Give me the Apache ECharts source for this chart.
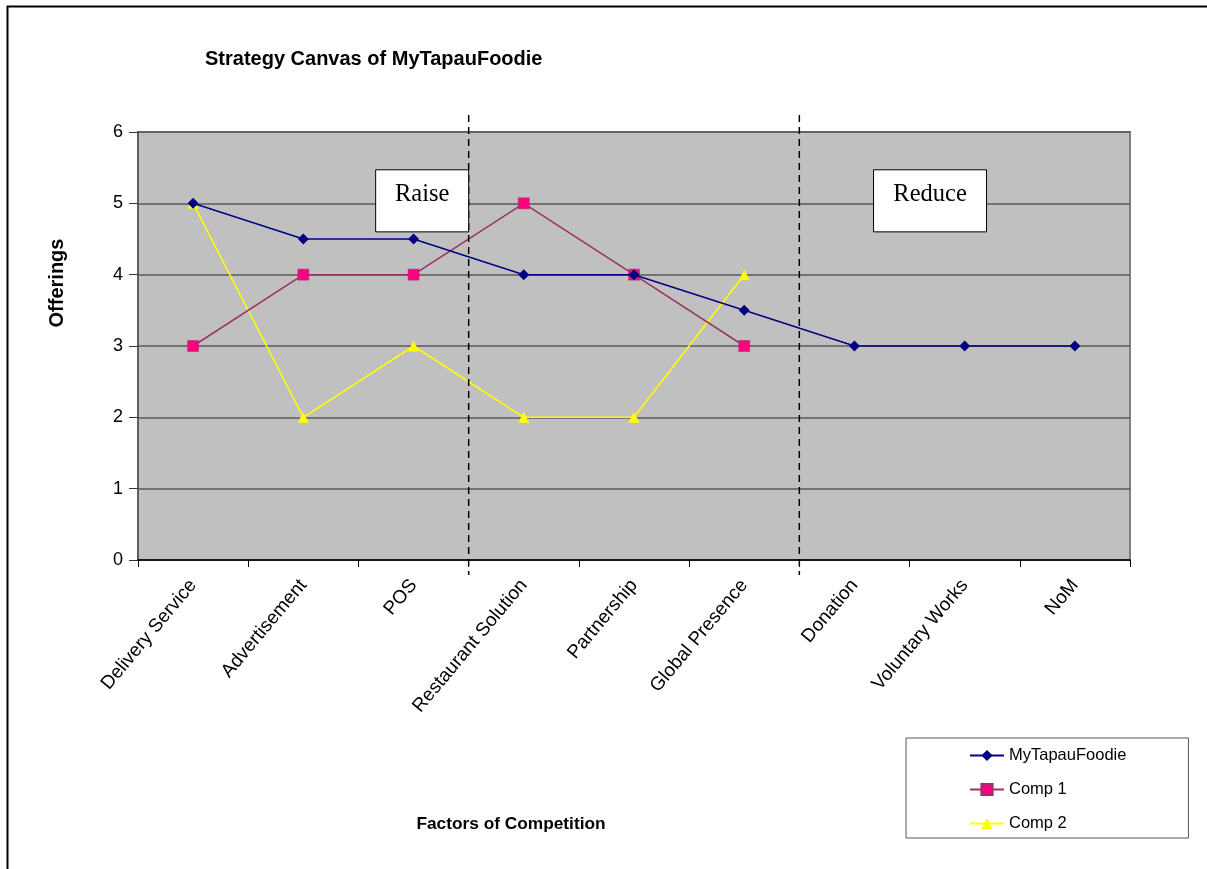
<!DOCTYPE html>
<html>
<head>
<meta charset="utf-8">
<style>
  html, body { margin: 0; padding: 0; background: #fff; }
  #chart { width: 1207px; height: 869px; }
</style>
<script src="https://cdn.jsdelivr.net/npm/echarts@6/dist/echarts.min.js"></script>
</head>
<body>
<div id="chart"></div>
<script>
// Factors of competition along the canvas
const categories = ['Delivery Service', 'Advertisement', 'POS', 'Restaurant Solution',
  'Partnership', 'Global Presence', 'Donation', 'Voluntary Works', 'NoM'];
// Offering levels per player
const myTapauFoodie = [5, 4.5, 4.5, 4, 4, 3.5, 3, 3, 3];
const comp1 = [3, 4, 4, 5, 4, 3, null, null, null];
const comp2 = [5, 2, 3, 2, 2, 4, null, null, null];
const yTicks = [0, 1, 2, 3, 4, 5, 6];
// Zone labels and the category index each zone ends after
const zones = [
  { text: 'Raise', after: 2 },
  { text: 'Reduce', after: 5 }
];

const FONT = '"Liberation Sans", Arial, sans-serif';
const chart = echarts.init(document.getElementById('chart'), null, { renderer: 'canvas' });

const option = {
  animation: false,
  backgroundColor: '#ffffff',
  title: {
    text: 'Strategy Canvas of MyTapauFoodie',
    left: 200, top: 44,
    textStyle: { fontFamily: FONT, fontSize: 20, fontWeight: 'bold', color: '#000' }
  },
  grid: {
    left: 138, right: 77, top: 132, bottom: 309,
    show: true, backgroundColor: '#c0c0c0', borderColor: '#808080', borderWidth: 2
  },
  legend: {
    orient: 'vertical',
    left: 906, top: 738,
    padding: [9, 62, 6, 63],
    backgroundColor: '#ffffff',
    borderColor: '#555555', borderWidth: 1,
    itemWidth: 34, itemHeight: 14, itemGap: 17,
    textStyle: { fontFamily: FONT, fontSize: 16.5, color: '#000' },
    data: ['MyTapauFoodie', 'Comp 1', 'Comp 2']
  },
  xAxis: {
    type: 'category',
    data: categories,
    boundaryGap: true,
    axisLine: { lineStyle: { color: '#000', width: 1.5 } },
    axisTick: { show: true, length: 7, lineStyle: { color: '#000' } },
    axisLabel: {
      rotate: 50, margin: 22, interval: 0,
      fontFamily: FONT, fontSize: 19, color: '#000'
    },
    splitLine: { show: false }
  },
  yAxis: {
    type: 'value',
    min: yTicks[0], max: yTicks[yTicks.length - 1], interval: 1,
    axisLine: { show: true, lineStyle: { color: '#555', width: 1.5 } },
    axisTick: { show: true, inside: false, length: 9, lineStyle: { color: '#333' } },
    axisLabel: { margin: 15, fontFamily: FONT, fontSize: 18, color: '#000' },
    splitLine: { show: true, lineStyle: { color: '#5a5a5a', width: 1.5 } }
  },
  series: [
    {
      name: 'MyTapauFoodie', type: 'line', data: myTapauFoodie,
      symbol: 'diamond', symbolSize: 11,
      lineStyle: { color: '#000080', width: 1.5 },
      itemStyle: { color: '#000080' },
      z: 4
    },
    {
      name: 'Comp 1', type: 'line', data: comp1,
      symbol: 'rect', symbolSize: 11,
      lineStyle: { color: '#993366', width: 1.5 },
      itemStyle: { color: '#ff0080', borderColor: '#993366', borderWidth: 0.5 },
      z: 3
    },
    {
      name: 'Comp 2', type: 'line', data: comp2,
      symbol: 'triangle', symbolSize: 11,
      lineStyle: { color: '#ffff00', width: 1.5 },
      itemStyle: { color: '#ffff00' },
      z: 2
    }
  ]
};

chart.setOption(option);

// Zone dividers and labels, placed from the axis scales
function zoneGraphics() {
  const els = [];
  const topY = chart.convertToPixel({ yAxisIndex: 0 }, 6);
  const botY = chart.convertToPixel({ yAxisIndex: 0 }, 0);
  const boxTop = chart.convertToPixel({ yAxisIndex: 0 }, 5.47);
  const boxBot = chart.convertToPixel({ yAxisIndex: 0 }, 4.6);
  zones.forEach(function (z) {
    const xa = chart.convertToPixel({ xAxisIndex: 0 }, categories[z.after]);
    const xb = chart.convertToPixel({ xAxisIndex: 0 }, categories[z.after + 1]);
    const xDiv = (xa + xb) / 2;
    els.push({
      type: 'line', z: 20,
      shape: { x1: xDiv, y1: topY - 17, x2: xDiv, y2: botY + 15 },
      style: { stroke: '#000', lineWidth: 1.5, lineDash: [7, 5] }
    });
  });
  // Raise box sits against the first divider, Reduce box centred in the last zone
  const x2 = chart.convertToPixel({ xAxisIndex: 0 }, categories[2]);
  const x3 = chart.convertToPixel({ xAxisIndex: 0 }, categories[3]);
  const raiseRight = (x2 + x3) / 2;
  const raiseW = 93;
  const xD = chart.convertToPixel({ xAxisIndex: 0 }, categories[6]);
  const xV = chart.convertToPixel({ xAxisIndex: 0 }, categories[7]);
  const reduceLeft = (xD + xV) / 2 - 36;
  const reduceW = 113;
  const boxH = boxBot - boxTop;
  [[raiseRight - raiseW, raiseW, zones[0].text], [reduceLeft, reduceW, zones[1].text]].forEach(function (b) {
    els.push({
      type: 'rect', z: 21,
      shape: { x: b[0], y: boxTop, width: b[1], height: boxH },
      style: { fill: '#fff', stroke: '#000', lineWidth: 1 }
    });
    els.push({
      type: 'text', z: 22,
      x: b[0] + b[1] / 2, y: boxTop + 25,
      style: {
        text: b[2], fill: '#000',
        font: '24.5px "Liberation Serif", "Times New Roman", serif',
        textAlign: 'center', textVerticalAlign: 'middle'
      }
    });
  });
  // Axis titles
  els.push({
    type: 'text', z: 10,
    x: 57, y: 283, rotation: Math.PI / 2,
    style: {
      text: 'Offerings', fill: '#000',
      font: 'bold 20px "Liberation Sans", Arial, sans-serif',
      textAlign: 'center', textVerticalAlign: 'middle'
    }
  });
  els.push({
    type: 'text', z: 10,
    x: 511, y: 824,
    style: {
      text: 'Factors of Competition', fill: '#000',
      font: 'bold 17.3px "Liberation Sans", Arial, sans-serif',
      textAlign: 'center', textVerticalAlign: 'middle'
    }
  });
  // Page frame on the left and top edges
  els.push({
    type: 'polyline', z: 10,
    shape: { points: [[7.5, 869], [7.5, 6.5], [1207, 6.5]] },
    style: { stroke: '#000', lineWidth: 2, fill: null }
  });
  return els;
}

chart.setOption({ graphic: zoneGraphics() });
</script>
</body>
</html>
